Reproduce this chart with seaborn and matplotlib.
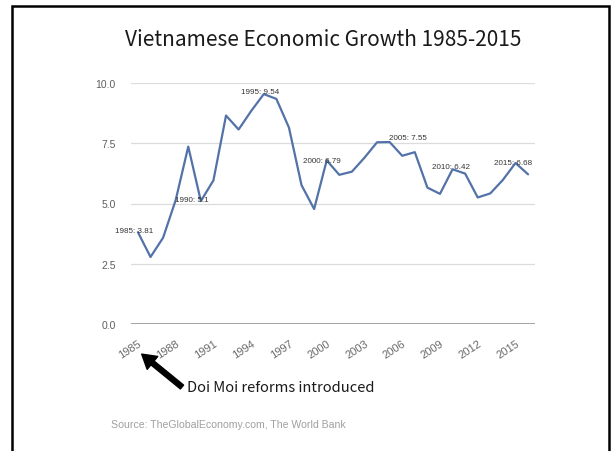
import matplotlib
matplotlib.use("Agg")
import matplotlib.pyplot as plt
import pandas as pd
import seaborn as sns
from matplotlib.patches import Rectangle

# ── Data ─────────────────────────────────────────────────────────────────────
years = list(range(1985, 2017))
growth = [3.81, 2.78, 3.58, 5.14, 7.36, 5.10, 5.96, 8.65, 8.07, 8.84,
          9.54, 9.34, 8.15, 5.76, 4.77, 6.79, 6.19, 6.32, 6.90, 7.54,
          7.55, 6.98, 7.13, 5.66, 5.40, 6.42, 6.24, 5.25, 5.42, 5.98,
          6.68, 6.21]
label_years = [1985, 1990, 1995, 2000, 2005, 2010, 2015]
label_offsets = [(-4, 2), (-9, 2), (-4, 3), (-5, 0), (18, 5), (-2, 3), (-2, 1)]
xticks = [1985, 1988, 1991, 1994, 1997, 2000, 2003, 2006, 2009, 2012, 2015]
yticks = [0.0, 2.5, 5.0, 7.5, 10.0]

df = pd.DataFrame({"year": years, "growth": growth})

# ── Style ────────────────────────────────────────────────────────────────────
sns.set_style("white")
plt.rcParams["font.family"] = ["Liberation Sans", "DejaVu Sans"]
thin = ["Noto Sans CJK KR", "Liberation Sans"]

fig = plt.figure(figsize=(6.11, 4.52), dpi=100)
ax = fig.add_axes([131 / 611, 1 - 325 / 452, 404 / 611, 241 / 452])

sns.lineplot(data=df, x="year", y="growth", ax=ax, color="#5272a8",
             linewidth=1.6, clip_on=False)

ax.set_xlim(1984.45, 2016.55)
ax.set_ylim(0, 10)
ax.set_xticks(xticks)
ax.set_yticks(yticks)
ax.set_yticklabels([f"{v:.1f}" for v in yticks], fontsize=7.5, color="#5f5f5f")
ax.set_xticklabels([str(t) for t in xticks], fontsize=8, color="#6a6a6a",
                   rotation=33, ha="right", va="top", rotation_mode="anchor")
ax.tick_params(axis="both", length=0)
ax.tick_params(axis="y", pad=11)
ax.tick_params(axis="x", pad=10)
ax.set_xlabel("")
ax.set_ylabel("")

for s in ax.spines.values():
    s.set_visible(False)
for v in yticks[1:]:
    ax.axhline(v, color="#dcdcdc", linewidth=0.9, zorder=0)
ax.axhline(0, color="#8c8c8c", linewidth=1.1, zorder=1)

# data labels
for yr, (dx, dy) in zip(label_years, label_offsets):
    val = growth[years.index(yr)]
    txt = f"{yr}: {val:g}" if yr == 1990 else f"{yr}: {val:.2f}"
    ax.annotate(txt, xy=(yr, val), xytext=(dx, dy), textcoords="offset pixels",
                ha="center", va="center", fontsize=5.8, color="#333333")

# title
fig.text(323 / 611, 1 - 40 / 452, "Vietnamese Economic Growth 1985-2015",
         ha="center", va="center", fontsize=15, color="#1a1a1a",
         family=thin, fontweight="light")

# arrow + annotation
ax.annotate("", xy=(1985.3, -1.25), xycoords="data",
            xytext=(182, 452 - 388), textcoords="figure pixels",
            arrowprops=dict(facecolor="black", edgecolor="black", width=3.6,
                            headwidth=12, headlength=10, shrink=0),
            annotation_clip=False)
fig.text(187 / 611, 1 - 388 / 452, "Doi Moi reforms introduced",
         ha="left", va="center", fontsize=10.6, color="#1a1a1a",
         family=thin, fontweight="light")

fig.text(111 / 611, 1 - 425 / 452,
         "Source: TheGlobalEconomy.com, The World Bank",
         ha="left", va="center", fontsize=7.6, color="#a0a0a0")

# frame
fig.patches.append(Rectangle((12 / 611, -0.1), 597 / 611, 0.1 + 1 - 7 / 452,
                             transform=fig.transFigure, fill=False,
                             edgecolor="black", linewidth=1.8))

fig.savefig("out.png", dpi=100)
